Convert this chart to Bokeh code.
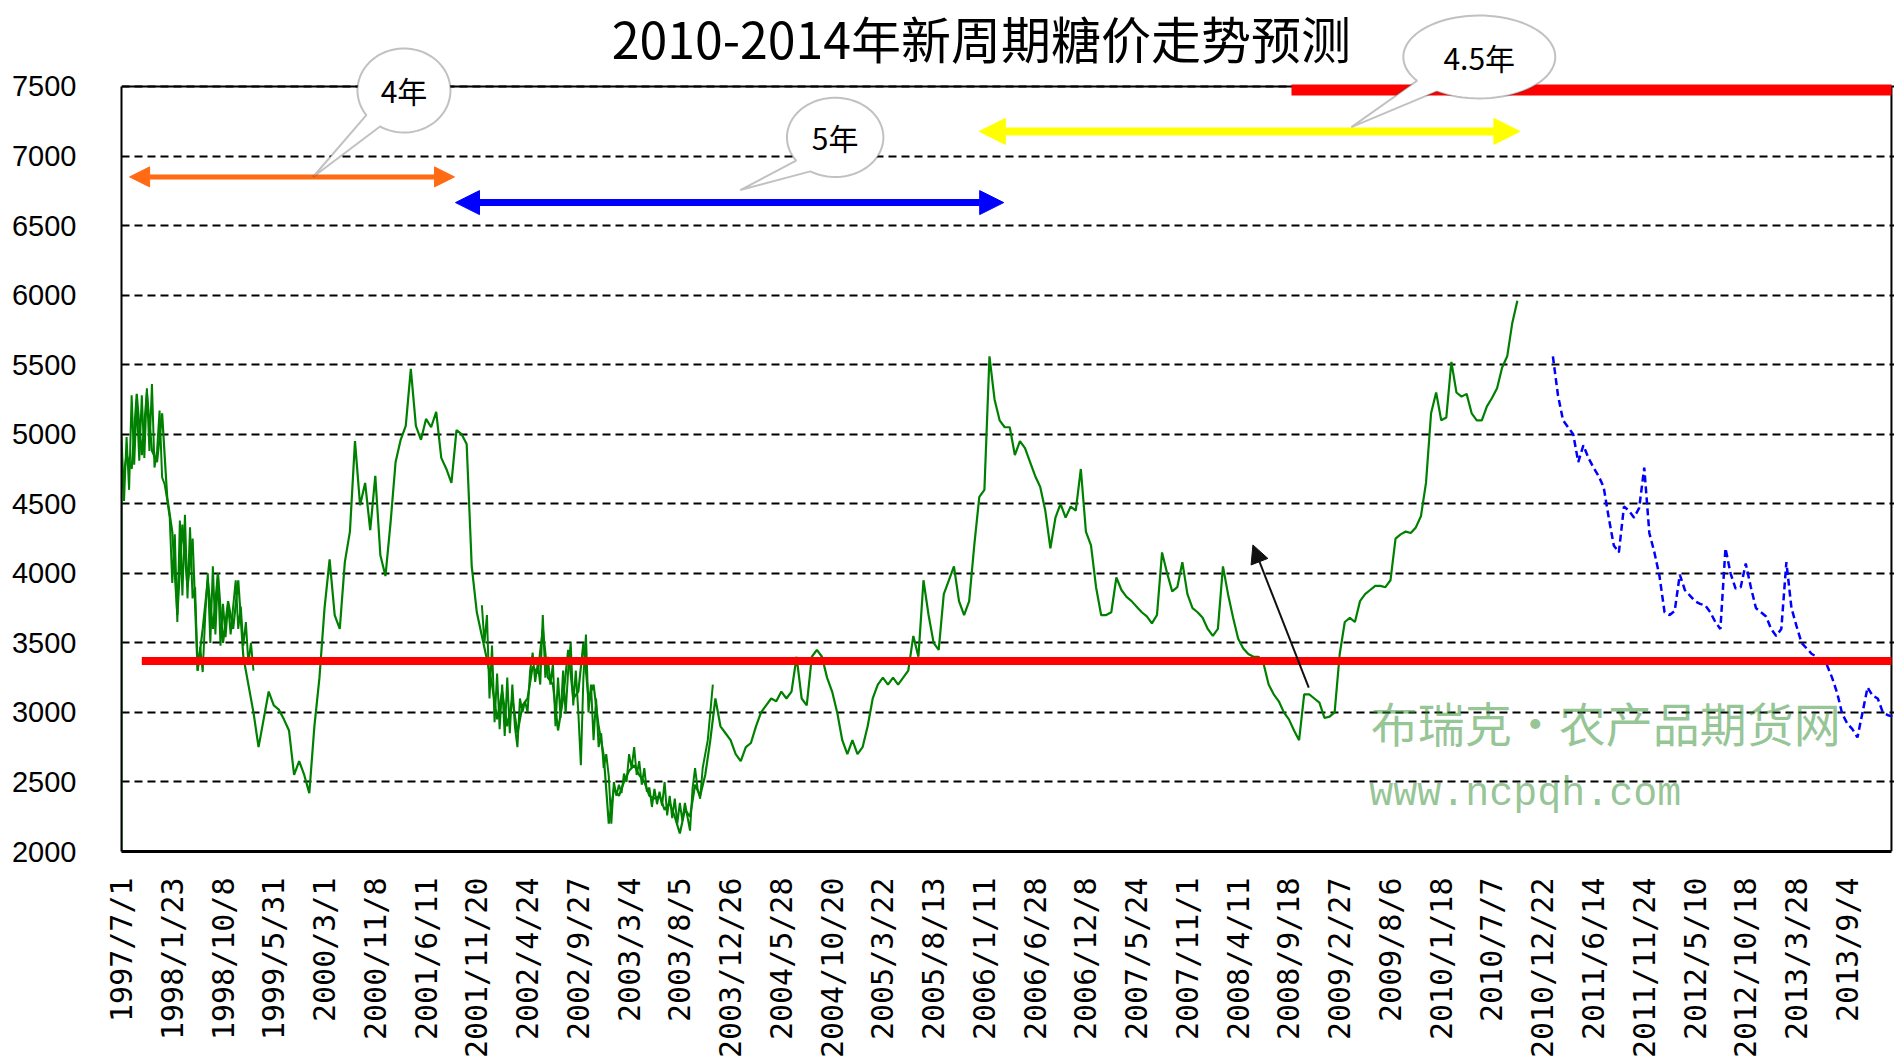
import numpy as np
from bokeh.plotting import figure
from bokeh.models import Range1d, FixedTicker, Label, Arrow, NormalHead, PolyAnnotation
from bokeh.embed import file_html
from bokeh.resources import INLINE

# ---------------- data ----------------
title_text = "2010-2014年新周期糖价走势预测"

date_labels = [
    "1997/7/1", "1998/1/23", "1998/10/8", "1999/5/31", "2000/3/1", "2000/11/8",
    "2001/6/11", "2001/11/20", "2002/4/24", "2002/9/27", "2003/3/4", "2003/8/5",
    "2003/12/26", "2004/5/28", "2004/10/20", "2005/3/22", "2005/8/13", "2006/1/11",
    "2006/6/28", "2006/12/8", "2007/5/24", "2007/11/1", "2008/4/11", "2008/9/18",
    "2009/2/27", "2009/8/6", "2010/1/18", "2010/7/7", "2010/12/22", "2011/6/14",
    "2011/11/24", "2012/5/10", "2012/10/18", "2013/3/28", "2013/9/4",
]

y_ticks = [2000, 2500, 3000, 3500, 4000, 4500, 5000, 5500, 6000, 6500, 7000, 7500]

# actual sugar price, one value every 0.1 label interval, starting at the first label
green_prices = [
    4600, 4850, 4750, 5290, 4850, 5300, 4880, 4800, 5150, 4550,
    4300, 3700, 4350, 3900, 4250, 3300, 3600, 3950, 3600, 4000,
    3500, 3800, 3600, 3950, 3400, 3200, 3000, 2750, 2950, 3150,
    3050, 3020, 2950, 2870, 2550, 2650, 2550, 2420, 2900, 3250,
    3750, 4100, 3700, 3600, 4080, 4300, 4950, 4490, 4650, 4310,
    4700, 4130, 3980, 4360, 4800, 4960, 5060, 5470, 5060, 4960,
    5110, 5050, 5160, 4830, 4750, 4650, 5030, 5000, 4930, 4050,
    3720, 3550, 3380, 3200, 2950, 3150, 2900, 3100, 2850, 3050,
    3100, 3330, 3280, 3600, 3250, 3200, 2870, 3100,
    3450, 3100, 3150, 3500, 3100, 3200, 2900, 2690, 2200, 2450,
    2400, 2500, 2580, 2620, 2550, 2500, 2400, 2380, 2400, 2300,
    2350, 2250, 2130, 2300, 2250, 2480, 2400, 2550, 2800, 3100,
    2900, 2850, 2800, 2700, 2650, 2750, 2780, 2900, 3000, 3050,
    3100, 3080, 3150, 3100, 3150, 3400, 3100, 3050, 3400, 3450,
    3400, 3250, 3150, 3000, 2800, 2700, 2800, 2700, 2750, 2900,
    3100, 3200, 3250, 3200, 3250, 3200, 3250, 3300, 3550, 3400,
    3950, 3700, 3500, 3450, 3850, 3950, 4050, 3800, 3700, 3800,
    4200, 4550, 4600, 5560, 5250, 5100, 5050,
    5050, 4850, 4950, 4900, 4800, 4700, 4620, 4450, 4180, 4400,
    4500, 4400, 4480, 4450, 4750, 4300, 4200, 3900, 3700, 3700,
    3720, 3970, 3880, 3830, 3800, 3760, 3720, 3690, 3640, 3700,
    4150, 4000, 3870, 3900, 4080, 3850, 3750, 3720, 3680, 3600,
    3550, 3600, 4050, 3850, 3680, 3530, 3460, 3420, 3400, 3400,
    3350, 3200, 3130, 3080, 3000, 2950, 2870, 2800, 3130, 3130,
    3100, 3070, 2960, 2970, 3000, 3420, 3650, 3680, 3650, 3800,
    3850, 3880, 3910, 3910, 3900, 3950, 4250, 4280, 4300, 4290,
    4330, 4410, 4650, 5150, 5300, 5100, 5120, 5520, 5300, 5270,
    5290, 5150, 5100, 5100, 5200, 5260, 5330, 5480, 5560, 5800, 5960,
]
step = 0.1

# finer daily swings read in the two most volatile stretches (every 0.05 label interval)
detail_step = 0.05
swing_1997_start = 0.0
swing_1997 = [
    4990, 4520, 4980, 4600, 5280, 4780, 5240, 4810, 5280, 4830,
    5330, 4880, 5360, 4760, 4880, 5170, 4690, 4640, 4530, 4400,
    3930, 4280, 3650, 4380, 3840, 4420, 3820, 4330, 3820, 3900,
    3300, 3470, 3290, 3700, 4000, 3500, 4050, 3560, 4000, 3480,
    3780, 3540, 3780, 3560, 3760, 3950, 3600, 3760, 3480, 3650,
    3350, 3500, 3300,
]
swing_2001_start = 7.10
swing_2001 = [
    3770, 3500, 3700, 3100, 3480, 2930, 3280, 2880, 3200, 2830,
    3250, 2850, 3200, 2900, 2750, 3100, 3000, 3080, 3000, 3300,
    3430, 3220, 3350, 3200, 3700, 3250, 3400, 3200, 3350, 2900,
    3250, 2960, 3300, 2990, 3300, 3500, 3050, 3300, 3000, 2620,
    3250, 3560, 3000, 3200, 2800, 3100, 2750, 2850, 2600, 2700,
    2540, 2200, 2500, 2400, 2480, 2420, 2560, 2500, 2700, 2600,
    2750, 2550, 2650, 2480, 2600, 2430, 2460, 2320, 2450, 2340,
    2430, 2330, 2500, 2260, 2400, 2240, 2380, 2200, 2350, 2220,
    2350, 2250, 2150, 2450, 2600, 2450, 2380, 2600, 2700, 2800,
    3000, 3200,
]

# forecast (blue dashed), same spacing as the actual price
forecast_start = 28.2
forecast_prices = [
    5560, 5280, 5100, 5050, 5000, 4800, 4920, 4830, 4760, 4700,
    4620, 4400, 4200, 4150, 4480, 4450, 4400, 4470, 4760, 4290,
    4150, 3980, 3720, 3700, 3730, 3990, 3880, 3840, 3800, 3780,
    3770, 3720, 3650, 3600, 4180, 4000, 3890, 3900, 4070, 3900,
    3750, 3720, 3690, 3600, 3550, 3600, 4080, 3750, 3620, 3500,
    3460, 3420, 3400, 3370, 3340, 3250, 3140, 2990, 2920, 2880,
    2820, 3000, 3180, 3120, 3100, 3000, 2980, 2970,
]

support_level, support_from = 3370, 0.40
ceiling_level, ceiling_from = 7475, 23.05

# cycle arrows: (x_start, x_end, y, colour, line width, head size)
cycle_arrows = [
    (0.16, 6.56, 6850, "#FF6A13", 5, 20),
    (6.58, 17.38, 6665, "#0000FF", 7, 24),
    (16.90, 27.55, 7177, "#FFFF00", 8, 26),
]
# rebound arrow (tail -> head)
rebound_arrow = (23.39, 3178, 22.29, 4204)

# callouts: text, centre x, centre y, radius x, radius y, tip x, tip y, gap angles
callouts = [
    ("4年", 5.565, 7471, 0.916, 302, 3.773, 6849, 216, 239),
    ("5年", 14.06, 7134, 0.95, 285, 12.19, 6755, 216, 239),
    ("4.5年", 26.75, 7712, 1.497, 298, 24.23, 7208, 215, 236),
]

x_right = 34.87      # right border of the chart box
x_view = 34.93       # visible x extent
y_view_top = 8118    # visible y extent (room above the box for title and callouts)

# ---------------- figure ----------------
p = figure(width=1894, height=1061,
           x_range=Range1d(0, x_view), y_range=Range1d(y_ticks[0], y_view_top),
           output_backend="svg", toolbar_location=None,
           min_border_left=121, min_border_right=0, min_border_top=0, min_border_bottom=209,
           background_fill_color="white", border_fill_color="white")

p.outline_line_color = None

p.xgrid.visible = False
p.ygrid.grid_line_color = "black"
p.ygrid.grid_line_dash = "8 5"
p.ygrid.grid_line_width = 2

p.yaxis.ticker = FixedTicker(ticks=y_ticks)
p.yaxis.bounds = (y_ticks[0], y_ticks[-1])
p.yaxis.major_tick_out = 0
p.yaxis.major_tick_in = 0
p.yaxis.minor_tick_line_color = None
p.yaxis.axis_line_color = "black"
p.yaxis.axis_line_width = 2
p.yaxis.major_label_standoff = 45
p.yaxis.major_label_text_font = "Liberation Sans"
p.yaxis.major_label_text_font_size = "29px"
p.yaxis.major_label_text_color = "black"

p.xaxis.ticker = FixedTicker(ticks=list(range(len(date_labels))))
p.xaxis.bounds = (0, x_right)
p.xaxis.major_label_overrides = {i: s for i, s in enumerate(date_labels)}
p.xaxis.major_label_orientation = np.pi / 2
p.xaxis.major_tick_out = 0
p.xaxis.major_tick_in = 0
p.xaxis.minor_tick_line_color = None
p.xaxis.axis_line_color = "black"
p.xaxis.axis_line_width = 3
p.xaxis.major_label_standoff = 26
p.xaxis.major_label_text_font = "DejaVu Sans Mono"
p.xaxis.major_label_text_font_size = "30px"
p.xaxis.major_label_text_color = "black"

# chart box: top and right edges
p.segment(x0=[0, x_right], y0=[y_ticks[-1], y_ticks[0]],
          x1=[x_right, x_right], y1=[y_ticks[-1], y_ticks[-1]],
          line_color="black", line_width=2)

# support / ceiling lines
p.add_layout(Arrow(start=None, end=None, x_start=support_from, y_start=support_level,
                   x_end=x_right, y_end=support_level, line_color="#FF0000", line_width=8))
p.add_layout(Arrow(start=None, end=None, x_start=ceiling_from, y_start=ceiling_level,
                   x_end=x_right, y_end=ceiling_level, line_color="#FF0000", line_width=11))

# price series
green = "#008000"
gx = [0.0] + [i * step for i in range(len(green_prices))]
gy = [y_ticks[0]] + green_prices
p.line(gx, gy, line_color=green, line_width=2.2)

for start, vals in ((swing_1997_start, swing_1997), (swing_2001_start, swing_2001)):
    sx = [start + i * detail_step for i in range(len(vals))]
    p.line(sx, vals, line_color=green, line_width=2)

fx = [forecast_start + i * step for i in range(len(forecast_prices))]
p.line(fx, forecast_prices, line_color="#0000FF", line_width=2.5, line_dash="7 4")

# watermark
p.add_layout(Label(x=24.61, y=2933, text="布瑞克・农产品期货网", text_font="Noto Sans CJK SC",
                   text_font_size="47px", text_color="#2E8B2E", text_alpha=0.5,
                   text_baseline="middle", text_align="left"))
p.add_layout(Label(x=24.58, y=2410, text="www.ncpqh.com", text_font="Liberation Mono",
                   text_font_size="40px", text_color="#2E8B2E", text_alpha=0.5,
                   text_baseline="middle", text_align="left"))

# cycle arrows
for xs, xe, yv, col, lw, hs in cycle_arrows:
    p.add_layout(Arrow(start=NormalHead(size=hs, fill_color=col, line_color=col),
                       end=NormalHead(size=hs, fill_color=col, line_color=col),
                       x_start=xs, y_start=yv, x_end=xe, y_end=yv,
                       line_color=col, line_width=lw))

tx, ty, hx, hy = rebound_arrow
p.add_layout(Arrow(end=NormalHead(size=18, fill_color="#111111", line_color="#111111"),
                   x_start=tx, y_start=ty, x_end=hx, y_end=hy,
                   line_color="#111111", line_width=2))

# speech-bubble callouts
for txt, cx, cy, rx, ry, tpx, tpy, a1, a2 in callouts:
    ang = np.radians(np.linspace(a2, a1 + 360, 80))
    xs = list(cx + rx * np.cos(ang)) + [tpx]
    ys = list(cy + ry * np.sin(ang)) + [tpy]
    p.add_layout(PolyAnnotation(xs=xs, ys=ys, fill_color="white", fill_alpha=1.0,
                                line_color="#333333", line_width=2))
    p.add_layout(Label(x=cx, y=cy, text=txt, text_font="Noto Sans CJK SC",
                       text_font_size="30px", text_color="black",
                       text_align="center", text_baseline="middle"))

# title
p.add_layout(Label(x=16.94, y=7859, text=title_text, text_font="Noto Sans CJK SC",
                   text_font_size="50px", text_color="black",
                   text_align="center", text_baseline="middle"))

open("out.html", "w").write(file_html(p, INLINE))
